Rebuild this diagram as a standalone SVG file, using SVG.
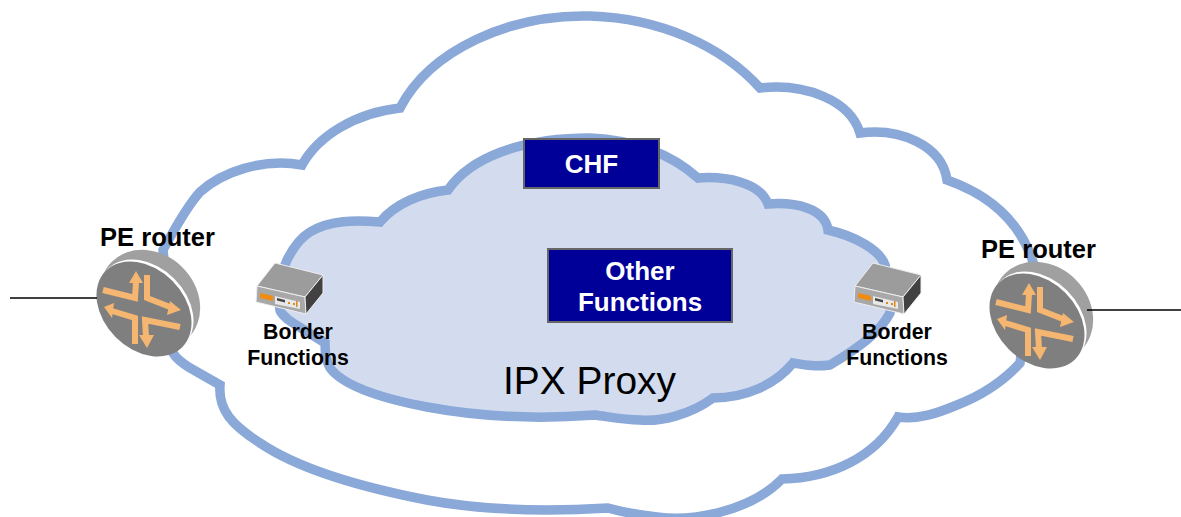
<svg xmlns="http://www.w3.org/2000/svg" xmlns:xlink="http://www.w3.org/1999/xlink" width="1181" height="517" viewBox="0 0 1181 517">
<style>
text{font-family:"Liberation Sans",Arial,sans-serif;fill:#000;text-anchor:middle}
.b{font-weight:700}
.pe{font-size:25.5px}
.bf{font-size:21.3px}
.w{fill:#fff;font-size:26px}
.cl{stroke:#8aa8d8;stroke-width:9.500;stroke-linejoin:miter}
.box{fill:#000099;stroke:#666;stroke-width:2}
.ar{fill:none;stroke:#f4b670;stroke-width:6;stroke-linejoin:miter}
.hd{fill:#f4b670}
.ln{stroke:#000;stroke-width:1.500;fill:none}
</style>
<defs>
<g id="rtr">
<ellipse cx="150" cy="300" rx="54" ry="46" transform="rotate(45 150 300)" fill="#a0a0a0"/>
<ellipse cx="146" cy="307" rx="54" ry="40" transform="rotate(45 146 307)" fill="#fff"/>
<ellipse cx="144" cy="309" rx="54" ry="40" transform="rotate(45 144 309)" fill="#7f7f7f"/>
<path class="ar" d="M103 290L135 298L136 282"/><path class="hd" d="M136 271L143 283L129 283Z"/>
<path class="ar" d="M147 275L147 298L170 307"/><path class="hd" d="M181 310L167 315L170 301Z"/>
<path class="ar" d="M135 344L135 318L112 311"/><path class="hd" d="M104 307L114 303L112 318Z"/>
<path class="ar" d="M180 327L145 320L146 337"/><path class="hd" d="M147 348L139 335L154 335Z"/>
</g>
<g id="dev">
<path d="M275 263L323 275L305 297L257 286Z" fill="#9c9c9c" stroke="#eee" stroke-width="1"/>
<path d="M257 286L305 297L306 314L256 302Z" fill="#a8a8a8" stroke="#eee" stroke-width="1"/>
<path d="M323 275L323 293L306 314L305 297Z" fill="#414141" stroke="#eee" stroke-width="1"/>
<path d="M260 293L273 296L273 301L260 298Z" fill="#f08c10"/>
<path d="M275 296L300 302L300 309L275 304Z" fill="#e8e8e8"/>
<path d="M277 298L285 300L285 302.500L277 300.500Z" fill="#444"/>
<path d="M288 302h2v2h-2zM293 303h2v2h-2zM296 301h1.500v6h-1.500z" fill="#d98a20"/>
</g>
</defs>
<rect width="1181" height="517" fill="#fff"/>
<g id="outer-cloud">
<path class="cl" fill="none" d="M163 250C175 228 188 205 200 192C222 172 262 158 302 165C318 136 355 113 400 108C430 50 510 14 590 16C660 18 722 46 760 88C805 83 850 100 860 133C900 128 942 145 947 180C990 195 1020 222 1033 262L1020 363C1000 385 975 398 957 405C938 413 918 420 898 417C875 458 830 478 782 479C750 512 690 522 657 517C640 515 622 512 608 508C540 512 480 510 427 500C360 487 300 470 260 443C232 425 218 410 220 385L190 368C182 363 176 358 173 353Z"/>
</g>
<g id="ipx-proxy">
<path class="cl" fill="#d3dcef" d="M287 260C293 248 300 238 310 232C330 220 355 220 380 222C395 204 420 193 448 190C470 158 520 138 590 138C635 140 672 155 698 178C725 176 760 182 768 204C795 202 825 208 828 230C855 236 880 250 885 265C890 285 892 300 890 313C880 332 860 347 830 365C815 367 805 365 793 363C775 385 745 398 713 398C690 415 660 422 640 420C625 420 610 417 595 415C530 420 470 415 427 407C390 400 345 388 330 368C325 360 325 350 325 343L293 323C285 318 280 312 280 310C276 292 280 275 287 260Z"/>
<text x="589.500" y="394" style="font-size:38.900px">IPX Proxy</text>
</g>
<g id="chf"><rect class="box" x="524" y="139" width="135" height="49"/><text class="b w" x="591.500" y="173">CHF</text></g>
<g id="other-functions"><rect class="box" x="548" y="249" width="184" height="73"/><text class="b w" x="640" y="280">Other</text><text class="b w" x="640" y="311">Functions</text></g>
<g id="pe-left"><use xlink:href="#rtr" href="#rtr"/><text class="b pe" x="157.500" y="246">PE router</text></g>
<g id="pe-right"><use xlink:href="#rtr" href="#rtr" transform="translate(893 12)"/><text class="b pe" x="1038.500" y="258">PE router</text></g>
<g id="border-left"><use xlink:href="#dev" href="#dev"/><text class="b bf" x="298" y="339">Border</text><text class="b bf" x="298" y="365">Functions</text></g>
<g id="border-right"><use xlink:href="#dev" href="#dev" transform="translate(598 0)"/><text class="b bf" x="897" y="339">Border</text><text class="b bf" x="897" y="365">Functions</text></g>
<g id="connectors">
<path class="ln" d="M10 298H97"/>
<path class="ln" d="M1087 310H1181"/>
</g>
</svg>
